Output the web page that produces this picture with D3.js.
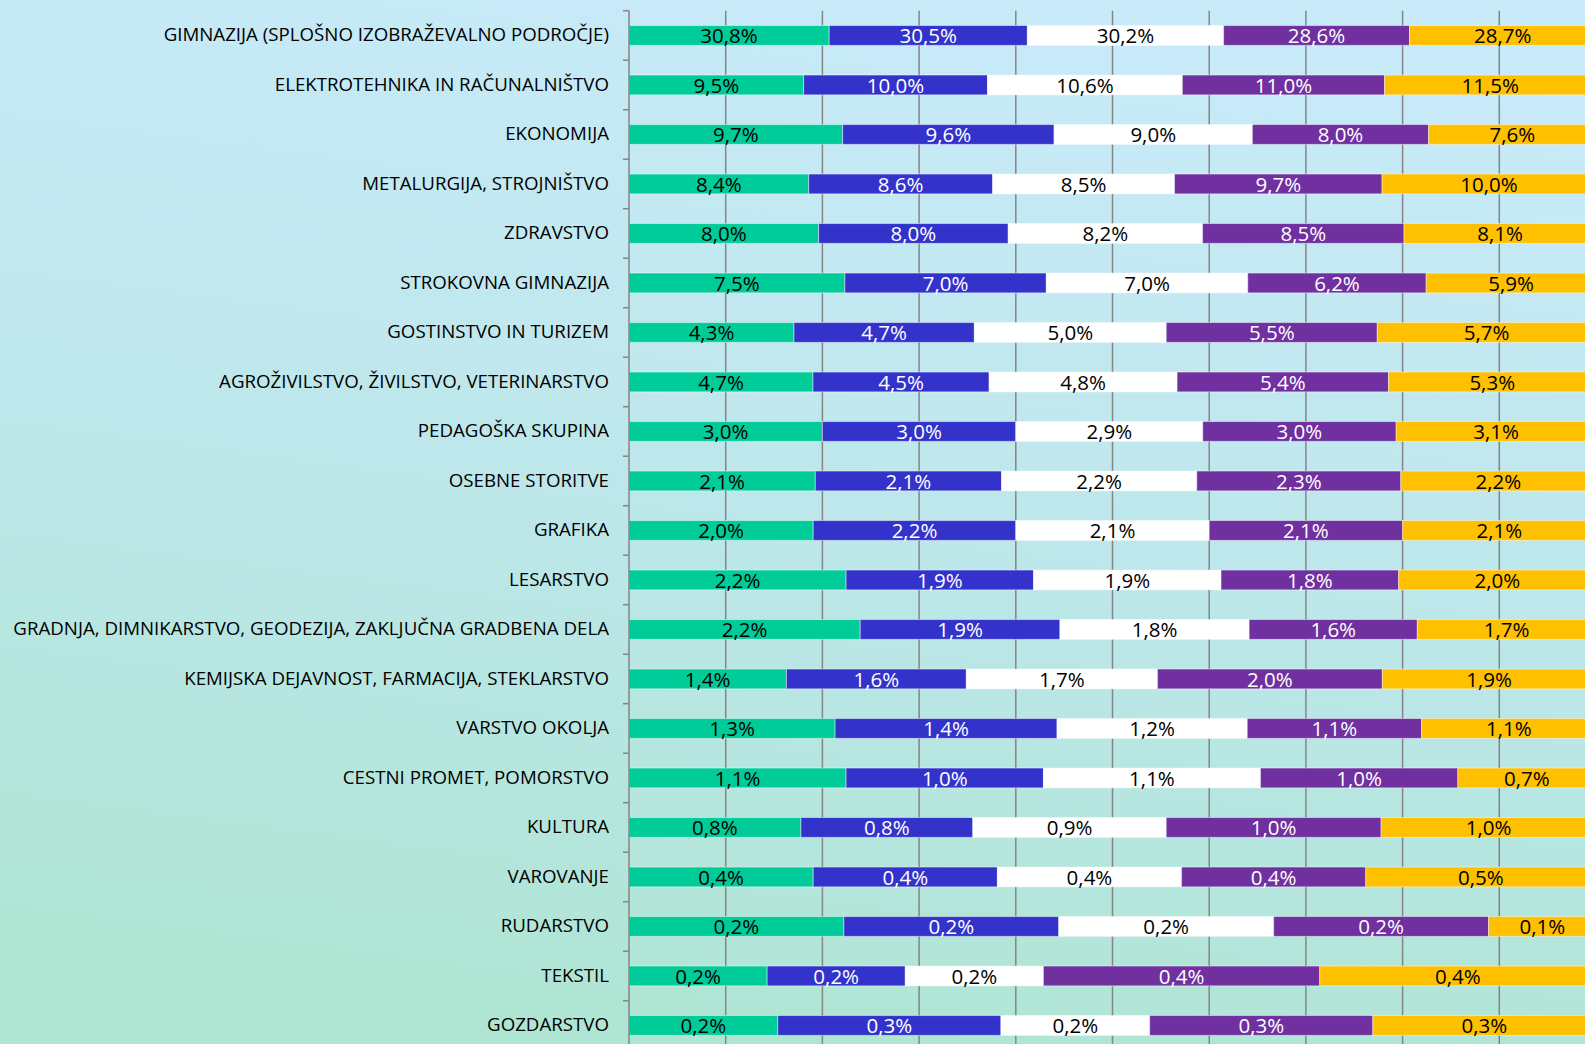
<!DOCTYPE html>
<html>
<head>
<meta charset="utf-8">
<script src="https://cdn.jsdelivr.net/npm/d3@7"></script>
<style>
  body { margin: 0; overflow: hidden; }
  svg { display: block; }
</style>
</head>
<body>
<div id="vis-container"></div>
<script>
// categories (top to bottom)
var categories = [
  "GIMNAZIJA (SPLOŠNO IZOBRAŽEVALNO PODROČJE)",
  "ELEKTROTEHNIKA IN RAČUNALNIŠTVO",
  "EKONOMIJA",
  "METALURGIJA, STROJNIŠTVO",
  "ZDRAVSTVO",
  "STROKOVNA GIMNAZIJA",
  "GOSTINSTVO IN TURIZEM",
  "AGROŽIVILSTVO, ŽIVILSTVO, VETERINARSTVO",
  "PEDAGOŠKA SKUPINA",
  "OSEBNE STORITVE",
  "GRAFIKA",
  "LESARSTVO",
  "GRADNJA, DIMNIKARSTVO, GEODEZIJA, ZAKLJUČNA GRADBENA DELA",
  "KEMIJSKA DEJAVNOST, FARMACIJA, STEKLARSTVO",
  "VARSTVO OKOLJA",
  "CESTNI PROMET, POMORSTVO",
  "KULTURA",
  "VAROVANJE",
  "RUDARSTVO",
  "TEKSTIL",
  "GOZDARSTVO"
];

// five series, one value per category (percent)
var series1 = [30.8, 9.5, 9.7, 8.4, 8.0, 7.5, 4.3, 4.7, 3.0, 2.1, 2.0, 2.2, 2.2, 1.4, 1.3, 1.1, 0.8, 0.4, 0.2, 0.2, 0.2];
var series2 = [30.5, 10.0, 9.6, 8.6, 8.0, 7.0, 4.7, 4.5, 3.0, 2.1, 2.2, 1.9, 1.9, 1.6, 1.4, 1.0, 0.8, 0.4, 0.2, 0.2, 0.3];
var series3 = [30.2, 10.6, 9.0, 8.5, 8.2, 7.0, 5.0, 4.8, 2.9, 2.2, 2.1, 1.9, 1.8, 1.7, 1.2, 1.1, 0.9, 0.4, 0.2, 0.2, 0.2];
var series4 = [28.6, 11.0, 8.0, 9.7, 8.5, 6.2, 5.5, 5.4, 3.0, 2.3, 2.1, 1.8, 1.6, 2.0, 1.1, 1.0, 1.0, 0.4, 0.2, 0.4, 0.3];
var series5 = [28.7, 11.5, 7.6, 10.0, 8.1, 5.9, 5.7, 5.3, 3.1, 2.2, 2.1, 2.0, 1.7, 1.9, 1.1, 0.7, 1.0, 0.5, 0.1, 0.4, 0.3];

var allSeries = [series1, series2, series3, series4, series5];
var colors = ["#00CC99", "#3333CC", "#FFFFFF", "#7030A0", "#FFC000"];
var labelColors = ["#000000", "#FFFFFF", "#000000", "#FFFFFF", "#000000"];

var chart = {
  width: 1585,
  height: 1044,
  left: 629,
  plotWidth: 967,
  top: 10.7,
  step: 49.5
};

var svg = d3.select("#vis-container").append("svg")
  .attr("width", chart.width)
  .attr("height", chart.height);

var defs = svg.append("defs");
var grad = defs.append("linearGradient").attr("id", "bg-grad")
  .attr("x1", "0.6").attr("y1", "0").attr("x2", "0.4").attr("y2", "1");
grad.append("stop").attr("offset", "0%").attr("stop-color", "#C8EAF9");
grad.append("stop").attr("offset", "50%").attr("stop-color", "#BDE7EA");
grad.append("stop").attr("offset", "100%").attr("stop-color", "#AFE5D3");

svg.append("rect").attr("width", chart.width).attr("height", chart.height).attr("fill", "url(#bg-grad)");

// build rows: each row is normalised to 100%
var rows = categories.map(function(c, i){
  var vals = allSeries.map(function(s){ return s[i]; });
  var total = d3.sum(vals);
  var acc = 0;
  var segs = vals.map(function(v, k){
    var seg = {cat: c, k: k, value: v, x0: acc / total, x1: (acc + v) / total};
    acc += v;
    return seg;
  });
  return {cat: c, segs: segs};
});

var x = d3.scaleLinear().domain([0, 1]).range([chart.left, chart.left + chart.plotWidth]);
var y = d3.scaleBand().domain(categories)
  .range([chart.top, chart.top + chart.step * categories.length])
  .paddingInner(0.6).paddingOuter(0.3);

// gridlines every 10%
svg.append("g").selectAll("line")
  .data(d3.range(1, 11).map(function(d){ return d / 10; }))
  .enter().append("line")
  .attr("x1", d => x(d)).attr("x2", d => x(d))
  .attr("y1", chart.top).attr("y2", chart.height)
  .attr("stroke", "#858585").attr("stroke-width", 1.5);

// bars
var rowG = svg.append("g").selectAll(".row")
  .data(rows).enter().append("g")
  .attr("class", "row")
  .attr("transform", d => "translate(0," + y(d.cat) + ")");

rowG.selectAll("rect")
  .data(d => d.segs).enter().append("rect")
  .attr("x", d => x(d.x0))
  .attr("width", d => x(d.x1) - x(d.x0))
  .attr("height", y.bandwidth())
  .attr("fill", d => colors[d.k])
  .attr("stroke", "rgba(255,255,255,0.45)")
  .attr("stroke-width", 1);

rowG.selectAll("text")
  .data(d => d.segs).enter().append("text")
  .attr("x", d => (x(d.x0) + x(d.x1)) / 2)
  .attr("y", y.bandwidth() / 2)
  .attr("dy", "0.37em")
  .attr("text-anchor", "middle")
  .attr("fill", d => labelColors[d.k])
  .style("font-family", "'Open Sans', sans-serif")
  .style("font-size", "20.5px")
  .text(d => d.value.toFixed(1).replace(".", ",") + "%");

// y axis
var yAxis = d3.axisLeft(y).tickSize(0).tickPadding(20);
var axisG = svg.append("g").attr("transform", "translate(" + chart.left + ",0)").call(yAxis);
axisG.select(".domain").remove();
axisG.selectAll("text")
  .attr("fill", "#000")
  .style("font-family", "'Open Sans', sans-serif")
  .style("font-size", "18.7px");

axisG.append("line")
  .attr("x1", 0).attr("x2", 0)
  .attr("y1", chart.top).attr("y2", chart.height)
  .attr("stroke", "#858585").attr("stroke-width", 1.5);

// small tick marks at band boundaries
axisG.selectAll(".band-tick")
  .data(categories).enter().append("line")
  .attr("class", "band-tick")
  .attr("x1", -6).attr("x2", 0)
  .attr("y1", d => y(d) - y.step() * y.paddingOuter())
  .attr("y2", d => y(d) - y.step() * y.paddingOuter())
  .attr("stroke", "#858585").attr("stroke-width", 1.5);
</script>
</body>
</html>
